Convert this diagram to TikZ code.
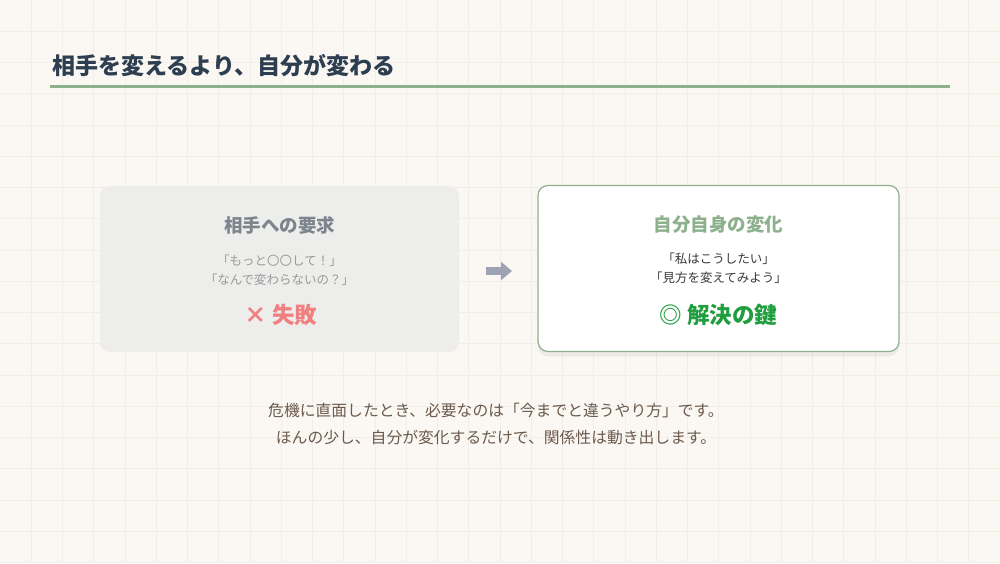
\documentclass[tikz,border=0pt]{standalone}
\usepackage{fontspec}
\setmainfont{Noto Sans CJK JP}
\usepackage{tikz}
\usetikzlibrary{shadows,arrows.meta}

\definecolor{paper}{HTML}{FBF8F3}
\definecolor{gridline}{HTML}{F1EDE7}
\definecolor{inkdark}{HTML}{2C3E50}
\definecolor{sage}{HTML}{8DB08D}
\definecolor{boxgray}{HTML}{EDEDEC}
\definecolor{mutedtitle}{HTML}{7D848C}
\definecolor{mutedtext}{HTML}{9A9A9A}
\definecolor{failred}{HTML}{F08080}
\definecolor{arrowgray}{HTML}{9DA3B4}
\definecolor{subdark}{HTML}{3A3A3A}
\definecolor{keygreen}{HTML}{1E9E3E}
\definecolor{bodybrown}{HTML}{6B5A4D}

\begin{document}
\begin{tikzpicture}[x=1pt,y=-1pt,
  card/.style={rounded corners=10pt, minimum width=#1, minimum height=166pt, inner sep=0pt},
  cardtitle/.style={font=\fontsize{18.5}{22}\selectfont\bfseries},
  cardquote/.style={font=\fontsize{12.5}{19}\selectfont, align=center},
  verdict/.style={font=\fontsize{22.5}{26}\selectfont\bfseries}]
  \useasboundingbox (0,0) rectangle (1000,563);
  \fill[paper] (0,0) rectangle (1000,563);
  \foreach \i in {1,...,31}
   {
    \draw[gridline, line width=1pt] (\i*31.25,0) -- (\i*31.25,563);
   }
  \foreach \j in {1,...,18}
   {
    \draw[gridline, line width=1pt] (0,\j*31.25) -- (1000,\j*31.25);
   }

  \node[anchor=west, text=inkdark, font=\fontsize{23}{27}\selectfont\bfseries] (heading) at (49,66) {相手を変えるより、自分が変わる};
  \draw[sage, line width=3pt] (50,86) -- (950,86);

  \node[card=359pt, fill=boxgray] (demand) at (279.5,269) {};
  \node[cardtitle, text=mutedtitle] (demandtitle) at (279.5,225) {相手への要求};
  \node[cardquote, text=mutedtext] (demandquote) at (279.5,270.5) {「もっと〇〇して！」\\「なんで変わらないの？」};
  \node[verdict, text=failred] (fail) at (281,315) {× 失敗};

  \node[card=361pt, fill=white, draw=sage, line width=1.2pt,
        drop shadow={opacity=0.10, shadow xshift=0pt, shadow yshift=-5pt}] (change) at (718.5,268.5) {};
  \node[cardtitle, text=sage] (changetitle) at (718.5,225) {自分自身の変化};
  \node[cardquote, text=subdark] (changequote) at (718.5,268) {「私はこうしたい」\\「見方を変えてみよう」};
  \node[verdict, text=keygreen] (key) at (718.5,315) {◎ 解決の鍵};

  \coordinate (arrowtail) at (486,271);
  \coordinate (arrowhead) at (512,271);
  \draw[arrowgray, line width=8pt, -{Triangle[length=11pt, width=18pt]}] (arrowtail) -- (arrowhead);

  \node[text=bodybrown, font=\fontsize{15.8}{27}\selectfont, align=center] (message) at (496,424)
    {危機に直面したとき、必要なのは「今までと違うやり方」です。\\ほんの少し、自分が変化するだけで、関係性は動き出します。};
\end{tikzpicture}
\end{document}
